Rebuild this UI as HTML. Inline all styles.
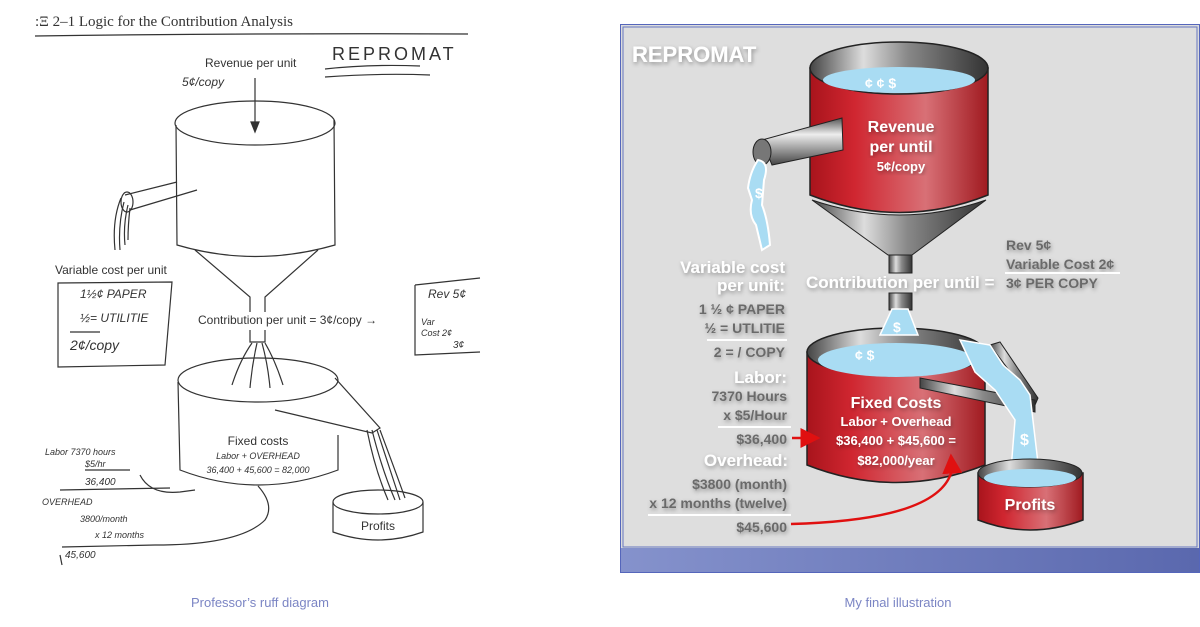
<!DOCTYPE html>
<html><head><meta charset="utf-8"><style>
html,body{margin:0;padding:0;background:#fff;width:1200px;height:627px;overflow:hidden}
svg{display:block}
.sk{font-family:"Liberation Sans",sans-serif;fill:#333}
.hw{font-family:"Liberation Sans",sans-serif;fill:#333;font-style:italic}
.wb{font-family:"Liberation Sans",sans-serif;font-weight:bold;fill:#fff}
.gb{font-family:"Liberation Sans",sans-serif;font-weight:bold;fill:#6a6a6a}
</style></head><body>
<svg width="1200" height="627" viewBox="0 0 1200 627" xmlns="http://www.w3.org/2000/svg">
<defs>
<linearGradient id="red" x1="0" x2="1" y1="0" y2="0">
<stop offset="0" stop-color="#a8141c"/><stop offset="0.25" stop-color="#d02630"/><stop offset="0.65" stop-color="#d87076"/><stop offset="1" stop-color="#a01a20"/></linearGradient>
<linearGradient id="metal" x1="0" x2="1" y1="0" y2="0">
<stop offset="0" stop-color="#444"/><stop offset="0.3" stop-color="#ddd"/><stop offset="0.55" stop-color="#888"/><stop offset="1" stop-color="#333"/></linearGradient>
<linearGradient id="pipe" x1="0" x2="0" y1="0" y2="1">
<stop offset="0" stop-color="#555"/><stop offset="0.35" stop-color="#eee"/><stop offset="1" stop-color="#444"/></linearGradient>
<linearGradient id="band" x1="0" x2="1"><stop offset="0" stop-color="#8592cc"/><stop offset="1" stop-color="#5a68ae"/></linearGradient>
<filter id="sh"><feDropShadow dx="1" dy="2" stdDeviation="2" flood-color="#000" flood-opacity="0.35"/></filter>
<marker id="ah" markerWidth="8" markerHeight="8" refX="7" refY="4" orient="auto"><path d="M0,0 L8,4 L0,8 Z" fill="#e01010"/></marker>
</defs>

<!-- LEFT SKETCH -->
<g stroke="#333" fill="none" stroke-width="1.2">
<path d="M35,36 Q250,33 468,34"/>
<path d="M325,69 Q370,64 420,66 M325,77 Q380,73 430,75"/>
<line x1="255" y1="78" x2="255" y2="128"/>
<path d="M251,122 L255,132 L259,122Z" fill="#333"/>
<ellipse cx="255" cy="123" rx="80" ry="22"/>
<path d="M176,125 L177,245 Q255,268 335,245 L334,120"/>
<path d="M195,250 L250,297 L250,312 M318,250 L265,297 L265,312"/>
<path d="M250,330 L250,342 L265,342 L265,330"/>
<path d="M177,182 L125,195 M197,190 L130,210"/>
<ellipse cx="127" cy="202" rx="6" ry="10"/>
<path d="M121,198 Q112,220 115,250 M124,202 Q118,225 120,250 M128,205 Q123,225 125,245 M130,208 Q128,225 128,240"/>
<path d="M58,283 L172,282 L165,365 L58,367 Z M70,332 L100,332"/>
<path d="M415,285 L480,278 M415,285 L415,355 L480,352"/>
<path d="M252,343 Q240,360 232,385 M257,343 Q252,365 250,388 M262,343 Q268,365 270,388 M265,343 Q275,360 283,385"/>
<ellipse cx="258" cy="380" rx="80" ry="22"/>
<path d="M178,382 L180,470 Q258,500 338,470 L338,435"/>
<path d="M335,378 L380,428 L372,433 L275,410"/>
<path d="M367,430 Q375,470 388,500 M372,430 Q382,470 395,500 M377,430 Q390,470 400,500 M380,430 Q395,470 405,498"/>
<ellipse cx="378" cy="502" rx="45" ry="12"/>
<path d="M333,502 L333,532 Q378,548 423,532 L423,502"/>
<path d="M140,475 Q150,495 180,492 L195,490"/>
<path d="M155,545 Q240,545 265,520 Q275,505 258,486"/>
<path d="M85,470 L130,470 M62,547 L155,545 M60,490 L170,488 M60,555 L62,565"/>
</g>
<text x="35" y="26" font-size="15" fill="#333" style="font-family:'Liberation Serif',serif">:Ξ 2–1   Logic for the Contribution Analysis</text>
<text x="332" y="60" class="sk" font-size="18" letter-spacing="3">REPROMAT</text>
<text x="205" y="67" class="sk" font-size="12">Revenue per unit</text>
<text x="182" y="86" class="hw" font-size="12">5¢/copy</text>
<text x="55" y="274" class="sk" font-size="12">Variable cost per unit</text>
<text x="80" y="298" class="hw" font-size="12">1½¢ PAPER</text>
<text x="80" y="322" class="hw" font-size="12">½= UTILITIE</text>
<text x="70" y="350" class="hw" font-size="14">2¢/copy</text>
<text x="198" y="324" class="sk" font-size="12">Contribution per unit  =  3¢/copy  →</text>
<text x="428" y="298" class="hw" font-size="12">Rev 5¢</text>
<text x="421" y="325" class="hw" font-size="9">Var</text>
<text x="421" y="336" class="hw" font-size="9">Cost   2¢</text>
<text x="453" y="348" class="hw" font-size="10">3¢</text>
<text x="258" y="445" class="sk" font-size="12" text-anchor="middle">Fixed costs</text>
<text x="258" y="459" class="hw" font-size="9" text-anchor="middle">Labor + OVERHEAD</text>
<text x="258" y="473" class="hw" font-size="9" text-anchor="middle">36,400 + 45,600 = 82,000</text>
<text x="378" y="530" class="sk" font-size="12" text-anchor="middle">Profits</text>
<text x="45" y="455" class="hw" font-size="9">Labor  7370 hours</text>
<text x="85" y="467" class="hw" font-size="9">$5/hr</text>
<text x="85" y="485" class="hw" font-size="10">36,400</text>
<text x="42" y="505" class="hw" font-size="9">OVERHEAD</text>
<text x="80" y="522" class="hw" font-size="9">3800/month</text>
<text x="95" y="538" class="hw" font-size="9">x 12 months</text>
<text x="65" y="558" class="hw" font-size="10">45,600</text>

<!-- RIGHT PANEL -->
<rect x="620.5" y="24.5" width="579" height="548" fill="#dcdcdc" stroke="#5566bb"/>
<rect x="623" y="27" width="574" height="520" fill="#dedede" stroke="#6677c0"/>
<rect x="621" y="548" width="578" height="24" fill="url(#band)"/>
<text x="632" y="62" class="wb" font-size="22" filter="url(#sh)">REPROMAT</text>

<!-- top tank -->
<path d="M810,68 L810,195 Q900,230 988,195 L988,68 Z" fill="url(#red)" stroke="#222" stroke-width="1.5"/>
<path d="M812,200 Q900,230 986,200 L912,255 L888,255 Z" fill="url(#metal)" stroke="#222"/>
<rect x="889" y="255" width="23" height="18" fill="url(#metal)" stroke="#222"/>
<ellipse cx="899" cy="68" rx="89" ry="26" fill="url(#metal)" stroke="#222" stroke-width="1.5"/>
<ellipse cx="899" cy="80" rx="76" ry="13" fill="#a9dcf3"/>
<text x="865" y="88" class="wb" font-size="14">¢  ¢  $</text>
<!-- pipe -->
<path d="M842,118 L762,140 L772,165 L843,150 Z" fill="url(#pipe)" stroke="#222"/>
<ellipse cx="762" cy="152" rx="9" ry="13" fill="#777" stroke="#222"/>
<path d="M758,160 Q770,162 764,180 L762,205 Q768,220 770,245 L762,250 L756,225 Q748,215 752,200 L748,188 Q750,172 758,160Z" fill="#a9dcf3" stroke="#fff" stroke-width="2"/>
<text x="755" y="198" class="wb" font-size="14">$</text>
<text x="901" y="132" class="wb" font-size="16" text-anchor="middle" filter="url(#sh)">Revenue</text>
<text x="901" y="152" class="wb" font-size="16" text-anchor="middle" filter="url(#sh)">per until</text>
<text x="901" y="171" class="wb" font-size="13" text-anchor="middle" filter="url(#sh)">5¢/copy</text>

<!-- labels left -->
<g filter="url(#sh)">
<text x="785" y="273" class="wb" font-size="17" text-anchor="end">Variable cost</text>
<text x="785" y="291" class="wb" font-size="17" text-anchor="end">per  unit:</text>
<text x="806" y="288" class="wb" font-size="17">Contribution per until =</text>
<text x="785" y="314" class="gb" font-size="14" text-anchor="end">1 ½ ¢ PAPER</text>
<text x="785" y="333" class="gb" font-size="14" text-anchor="end">½ = UTLITIE</text>
<text x="785" y="357" class="gb" font-size="14" text-anchor="end">2 = / COPY</text>
<text x="787" y="383" class="wb" font-size="17" text-anchor="end">Labor:</text>
<text x="787" y="401" class="gb" font-size="14" text-anchor="end">7370 Hours</text>
<text x="787" y="420" class="gb" font-size="14" text-anchor="end">x $5/Hour</text>
<text x="787" y="444" class="gb" font-size="14" text-anchor="end">$36,400</text>
<text x="788" y="466" class="wb" font-size="17" text-anchor="end">Overhead:</text>
<text x="787" y="489" class="gb" font-size="14" text-anchor="end">$3800 (month)</text>
<text x="787" y="508" class="gb" font-size="14" text-anchor="end">x 12 months (twelve)</text>
<text x="787" y="532" class="gb" font-size="14" text-anchor="end">$45,600</text>
<text x="1006" y="250" class="gb" font-size="14">Rev 5¢</text>
<text x="1006" y="269" class="gb" font-size="14">Variable Cost  2¢</text>
<text x="1006" y="288" class="gb" font-size="14">3¢ PER COPY</text>
</g>
<g stroke="#fff" stroke-width="2">
<line x1="707" y1="340" x2="787" y2="340"/>
<line x1="718" y1="427" x2="791" y2="427"/>
<line x1="648" y1="515" x2="791" y2="515"/>
<line x1="1005" y1="273" x2="1120" y2="273"/>
</g>

<rect x="889" y="293" width="23" height="17" fill="url(#metal)" stroke="#222"/>
<!-- fixed tank -->
<path d="M807,352 L807,465 Q896,500 985,465 L985,352 Z" fill="url(#red)" stroke="#222" stroke-width="1.5"/>
<ellipse cx="896" cy="352" rx="89" ry="24" fill="url(#metal)" stroke="#222" stroke-width="1.5"/>
<ellipse cx="896" cy="360" rx="78" ry="17" fill="#a9dcf3"/>
<path d="M892,309 L908,309 L918,335 L880,335 Z" fill="#a9dcf3" stroke="#fff" stroke-width="1.5"/>
<text x="893" y="332" class="wb" font-size="14">$</text>
<text x="855" y="360" class="wb" font-size="14">¢    $</text>
<!-- chute + stream -->
<path d="M990,345 L1000,342 L1038,398 L1035,405 Z" fill="url(#metal)" stroke="#222"/>
<path d="M920,378 L1035,400 L1035,412 L920,388 Z" fill="url(#metal)" stroke="#222"/>
<path d="M960,340 L990,345 L1003,365 L1020,380 L1030,395 L1040,480 L1010,482 L1015,420 L995,390 L975,372 Z" fill="#a9dcf3" stroke="#fff" stroke-width="1.5"/>
<text x="1020" y="445" class="wb" font-size="16">$</text>
<!-- profits tank -->
<path d="M978,473 L978,520 Q1030,540 1083,520 L1083,473 Z" fill="url(#red)" stroke="#222" stroke-width="1.5"/>
<ellipse cx="1030" cy="473" rx="52" ry="14" fill="url(#metal)" stroke="#222"/>
<ellipse cx="1030" cy="478" rx="46" ry="9" fill="#a9dcf3"/>
<path d="M1010,470 L1040,470 L1045,480 L1008,480Z" fill="#a9dcf3"/>
<text x="1030" y="510" class="wb" font-size="16" text-anchor="middle" filter="url(#sh)">Profits</text>
<g filter="url(#sh)">
<text x="896" y="408" class="wb" font-size="16" text-anchor="middle">Fixed Costs</text>
<text x="896" y="426" class="wb" font-size="13" text-anchor="middle">Labor + Overhead</text>
<text x="896" y="445" class="wb" font-size="13" text-anchor="middle">$36,400 + $45,600 =</text>
<text x="896" y="465" class="wb" font-size="13" text-anchor="middle">$82,000/year</text>
</g>
<path d="M792,438 L818,438" stroke="#e01010" stroke-width="2.5" fill="none" marker-end="url(#ah)"/>
<path d="M791,524 Q940,520 952,470 L951,456" stroke="#e01010" stroke-width="2.5" fill="none" marker-end="url(#ah)"/>

<text x="260" y="607" font-family="Liberation Sans,sans-serif" font-size="13" fill="#7b85c4" text-anchor="middle">Professor’s ruff diagram</text>
<text x="898" y="607" font-family="Liberation Sans,sans-serif" font-size="13" fill="#7b85c4" text-anchor="middle">My final illustration</text>
</svg>
</body></html>
